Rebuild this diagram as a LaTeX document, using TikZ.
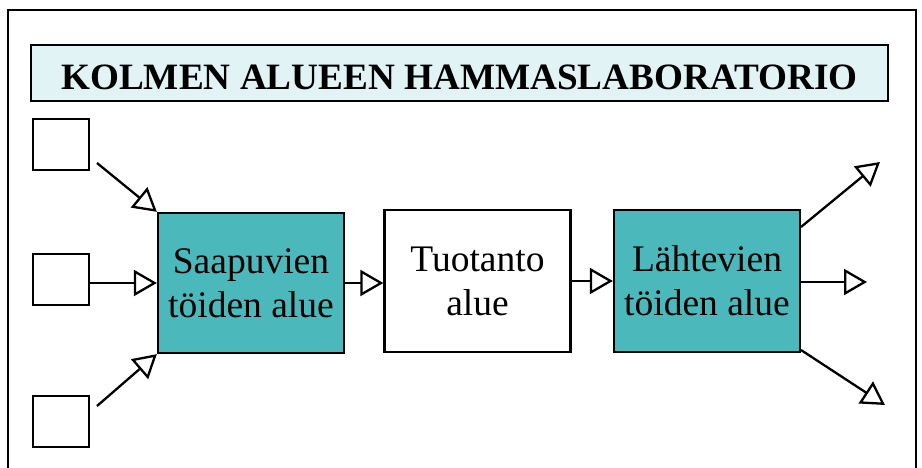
\documentclass[tikz,border=0pt]{standalone}
\usepackage{fontspec}
\setmainfont{Liberation Serif}
\usetikzlibrary{arrows.meta}
\definecolor{boxteal}{RGB}{75,185,187}
\definecolor{titlebg}{RGB}{226,243,246}
\begin{document}
\begin{tikzpicture}[x=1pt,y=-1pt,
  area/.style={draw=black, line width=2.3pt, minimum width=186pt, minimum height=140pt, inner sep=0pt, align=center, font=\fontsize{37.5}{44}\selectfont},
  smallbox/.style={draw=black, line width=2.3pt, minimum width=56pt, minimum height=51pt, inner sep=0pt},
  arr/.style={line width=2.3pt, -{Triangle[length=23pt, width=26pt, fill=white]}}]
\useasboundingbox (0,0) rectangle (922,468);
\clip (0,0) rectangle (922,468);
\fill[white] (0,0) rectangle (922,468);
\draw[line width=2.3pt] (8,10) rectangle (916,500);
\node[draw=black, line width=2.3pt, fill=titlebg, minimum width=857pt, minimum height=56pt, inner sep=0pt,
  font=\bfseries\fontsize{37.2}{44}\selectfont, text height=33.5pt, text depth=0pt] (title) at (459.5,73) {KOLMEN ALUEEN HAMMASLABORATORIO};
\node[smallbox] (s1) at (61,144.5) {};
\node[smallbox] (s2) at (61,279.5) {};
\node[smallbox] (s3) at (61,421.5) {};
\node[area, fill=boxteal] (in) at (251,283) {Saapuvien\\töiden alue};
\node[area, minimum height=142pt] (prod) at (477.5,281) {Tuotanto\\alue};
\node[area, fill=boxteal, minimum height=142pt] (out) at (707,281) {Lähtevien\\töiden alue};
\coordinate (a1) at (97,163);
\coordinate (a3) at (97,406);
\coordinate (b1) at (801,227);
\coordinate (b3) at (801,350);
\coordinate (o1) at (880,162);
\coordinate (o2) at (867,282);
\coordinate (o3) at (885,405);
\draw[arr] (a1) -- (in.north west);
\draw[arr] (s2.east |- in.west) -- (in.west);
\draw[arr] (a3) -- (in.south west);
\draw[arr] (in.east) -- (in.east -| prod.west);
\draw[arr] (prod.east) -- (out.west);
\draw[arr] (b1) -- (o1);
\draw[arr] (out.east |- o2) -- (o2);
\draw[arr] (b3) -- (o3);
\end{tikzpicture}
\end{document}
